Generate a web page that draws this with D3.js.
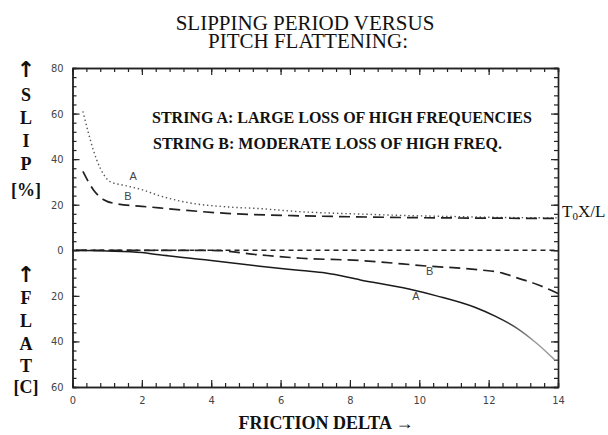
<!DOCTYPE html>
<html>
<head>
<meta charset="utf-8">
<script src="https://cdn.jsdelivr.net/npm/d3@7"></script>
<style>
  body { margin: 0; background: #fff; }
  svg text { font-family: "Liberation Serif", "DejaVu Serif", serif; }
</style>
</head>
<body>
<div id="chart"></div>
<script>
// chart values
const slipAX = [0.3, 0.45, 0.6, 0.8, 1.1, 1.5, 2.0, 2.5, 3.3, 4.5, 5.4, 6.5, 7.3, 8.1, 9.5, 11, 12.5, 14];
const slipAY = [61, 52, 44, 36, 30, 28.5, 26.6, 24, 21, 19, 18.3, 17, 16.4, 16, 15.3, 14.8, 14.4, 14.2];
const slipBX = [0.3, 0.6, 0.9, 1.27, 2.0, 2.5, 3.3, 4.45, 6.36, 8.1, 10, 12, 14];
const slipBY = [34.6, 26.6, 22.2, 20.4, 19.3, 18.6, 17.5, 16.2, 15.2, 14.7, 14.3, 14.1, 14];
const flatAX = [0.1, 1, 2, 2.5, 4, 5.4, 6.6, 7.3, 8.3, 9.7, 10.5, 11.6, 12.2, 12.8, 13.4, 13.9];
const flatAY = [0, -0.3, -1, -2, -4.5, -7, -8.9, -10, -13, -17, -20, -25, -29, -34, -41, -48];
const flatBX = [0.1, 2, 4, 5.4, 6.6, 8.3, 10.3, 11.75, 12.4, 12.8, 13.4, 14];
const flatBY = [0, 0, 0, -2, -3.5, -4.5, -7, -8.6, -10, -12, -15, -19];
const zeroX = [0, 14];
const zeroY = [0, 0];

const xTicks = [0, 2, 4, 6, 8, 10, 12, 14];
const yTicks = [80, 60, 40, 20, 0, -20, -40, -60];
const yTickLabels = ["80", "60", "40", "20", "0", "20", "40", "60"];

const width = 608;
const height = 435;
const margin = { left: 72.5, right: 50, top: 68, bottom: 48 };

const svg = d3.select("#chart")
  .append("svg")
  .attr("width", width)
  .attr("height", height);

const x = d3.scaleLinear().domain([0, 14]).range([margin.left, width - margin.right]);
const y = d3.scaleLinear().domain([-60, 80]).range([height - margin.bottom, margin.top]);

const minorX = d3.range(0, 14.01, 0.4);
const minorY = d3.range(-60, 80.01, 4);

//axes, all ticks pointing inward
function drawAxis(axisFn, pos, scale, major, labels) {
  const g = svg.append("g").attr("transform", pos);
  g.call(axisFn(scale).tickValues(scale === x ? minorX : minorY)
    .tickSize(-4).tickFormat(""));
  const g2 = svg.append("g").attr("transform", pos);
  const ax = axisFn(scale).tickValues(major).tickSizeInner(-7).tickSizeOuter(0).tickPadding(9);
  if (labels) ax.tickFormat(labels); else ax.tickFormat("");
  g2.call(ax);
  [g, g2].forEach(s => {
    s.selectAll("path").attr("stroke", "#222").attr("stroke-width", 1.4);
    s.selectAll("line").attr("stroke", "#222").attr("stroke-width", 1.2);
  });
  g2.selectAll("text")
    .style("font-family", "'DejaVu Sans Condensed', 'DejaVu Sans', sans-serif")
    .attr("font-size", 11)
    .attr("fill", "#444");
  return g2;
}

drawAxis(d3.axisBottom, `translate(0,${y(-60)})`, x, xTicks, d => d);
drawAxis(d3.axisTop, `translate(0,${y(80)})`, x, xTicks, null);
drawAxis(d3.axisLeft, `translate(${x(0)},0)`, y, yTicks, d => yTickLabels[yTicks.indexOf(d)]);
drawAxis(d3.axisRight, `translate(${x(14)},0)`, y, yTicks, null);

//gradient for solid curve A fading out at the end
const grad = svg.append("defs").append("linearGradient")
  .attr("id", "fadeA")
  .attr("gradientUnits", "userSpaceOnUse")
  .attr("x1", x(0)).attr("x2", x(14)).attr("y1", 0).attr("y2", 0);
grad.append("stop").attr("offset", "0.88").attr("stop-color", "#1a1a1a");
grad.append("stop").attr("offset", "0.95").attr("stop-color", "#999");

const line = d3.line().x(d => x(d[0])).y(d => y(d[1])).curve(d3.curveMonotoneX);
const pts = (xs, ys) => xs.map((v, i) => [v, ys[i]]);

svg.append("path").attr("d", line(pts(zeroX, zeroY)))
  .attr("fill", "none").attr("stroke", "#222").attr("stroke-width", 1.6)
  .attr("stroke-dasharray", "5,4");
svg.append("path").attr("d", line(pts(slipAX, slipAY)))
  .attr("fill", "none").attr("stroke", "#555").attr("stroke-width", 1.4)
  .attr("stroke-dasharray", "1.4,2.8");
svg.append("path").attr("d", line(pts(slipBX, slipBY)))
  .attr("fill", "none").attr("stroke", "#222").attr("stroke-width", 1.7)
  .attr("stroke-dasharray", "11,6");
svg.append("path").attr("d", line(pts(flatBX, flatBY)))
  .attr("fill", "none").attr("stroke", "#222").attr("stroke-width", 1.7)
  .attr("stroke-dasharray", "11,6");
svg.append("path").attr("d", line(pts(flatAX, flatAY)))
  .attr("fill", "none").attr("stroke", "url(#fadeA)").attr("stroke-width", 1.5);

//curve labels
const curveLabels = [
  { t: "A", x: 1.75, y: 31 },
  { t: "B", x: 1.6, y: 22 },
  { t: "B", x: 10.3, y: -10.8 },
  { t: "A", x: 9.9, y: -21.6 }
];
svg.selectAll(".clab").data(curveLabels).enter().append("text")
  .attr("x", d => x(d.x)).attr("y", d => y(d.y))
  .attr("text-anchor", "middle")
  .style("font-family", "'Liberation Sans', Arial, sans-serif")
  .attr("font-size", 11).attr("fill", "#444")
  .text(d => d.t);

//title, two lines in one text block
const title = svg.append("text").attr("text-anchor", "middle")
  .attr("font-size", 21).attr("fill", "#111");
title.append("tspan").attr("x", 305).attr("y", 30).text("SLIPPING PERIOD VERSUS");
title.append("tspan").attr("x", 308).attr("y", 48).text("PITCH FLATTENING:");

svg.append("text").attr("x", 152).attr("y", 123)
  .attr("font-size", 16).attr("font-weight", "bold").attr("fill", "#111")
  .text("STRING A: LARGE LOSS OF HIGH FREQUENCIES");
svg.append("text").attr("x", 153).attr("y", 149)
  .attr("font-size", 16).attr("font-weight", "bold").attr("fill", "#111")
  .text("STRING B: MODERATE LOSS OF HIGH FREQ.");

const t0 = svg.append("text").attr("x", 562).attr("y", 217)
  .attr("font-size", 17).attr("fill", "#111");
t0.append("tspan").text("T");
t0.append("tspan").attr("font-size", 11).attr("dy", 3).text("0");
t0.append("tspan").attr("dy", -3).text("X/L");

svg.append("text").attr("x", 326).attr("y", 429).attr("text-anchor", "middle")
  .attr("font-size", 18).attr("font-weight", "bold").attr("fill", "#111")
  .text("FRICTION DELTA \u2192");

//vertical letter stacks on the left
const slipLetters = ["\u2191", "S", "L", "I", "P", "[%]"];
const slipYs = [77, 101, 124, 147, 170, 196];
const flatLetters = ["\u2191", "F", "L", "A", "T", "[C]"];
const flatYs = [282, 304, 327, 350, 372, 393];
function stack(letters, ys) {
  svg.selectAll(null).data(letters).enter().append("text")
    .attr("x", 26).attr("y", (d, i) => ys[i]).attr("text-anchor", "middle")
    .attr("font-size", (d, i) => i === 0 ? 22 : 18)
    .style("font-family", (d, i) => i === 0 ? "'DejaVu Sans', sans-serif" : null)
    .attr("font-weight", "bold").attr("fill", "#111")
    .text(d => d);
}
stack(slipLetters, slipYs);
stack(flatLetters, flatYs);
</script>
</body>
</html>
